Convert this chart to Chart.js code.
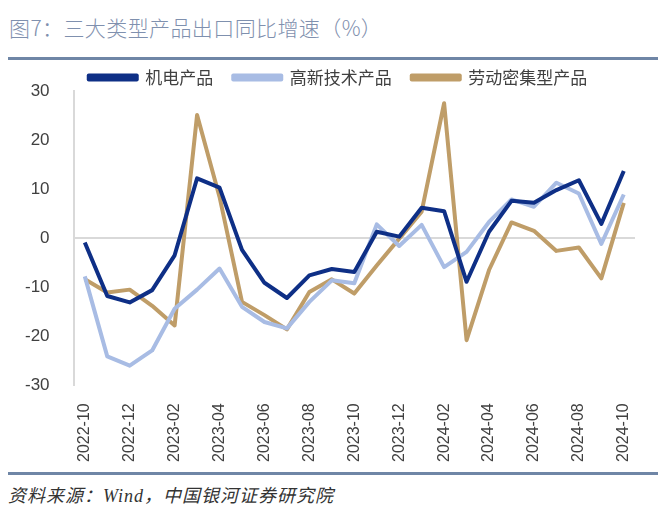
<!DOCTYPE html>
<html lang="zh">
<head>
<meta charset="UTF-8">
<title>三大类型产品出口同比增速</title>
<script src="https://cdn.jsdelivr.net/npm/chart.js@4.4.0/dist/chart.umd.min.js"></script>
<style>
  body { margin: 0; background: #fff; width: 667px; height: 517px; position: relative; overflow: hidden; }
  #title { position: absolute; left: 9px; top: 12px; font: 21px "Noto Sans CJK SC", sans-serif; letter-spacing: 0.4px; color: #7f90ae; font-weight: 300; white-space: nowrap; }
  .rule { position: absolute; left: 8px; width: 650px; height: 3px; background: #6f86a6; }
  #src { position: absolute; left: 8px; top: 481px; font: italic 18px "Noto Sans CJK SC", sans-serif; letter-spacing: 1px; color: #333; white-space: nowrap; }
  #src i { font-family: "Liberation Serif", serif; }
  #wrap { position: absolute; left: 0; top: 40px; }
</style>
</head>
<body>
<div id="title">图7：三大类型产品出口同比增速（%）</div>
<div class="rule" style="top:57px"></div>
<div id="wrap"><canvas id="c" width="667" height="432"></canvas></div>
<div class="rule" style="top:472px"></div>
<div id="src">资料来源：<i>Wind</i>，中国银河证券研究院</div>
<script>
const months = ['2022-10','2022-11','2022-12','2023-01','2023-02','2023-03','2023-04','2023-05','2023-06',
  '2023-07','2023-08','2023-09','2023-10','2023-11','2023-12','2024-01','2024-02','2024-03','2024-04',
  '2024-05','2024-06','2024-07','2024-08','2024-09','2024-10'];

const electro = [-0.9, -11.8, -13.1, -10.6, -3.5, 12.2, 10.3, -2.4, -9.1, -12.2, -7.6, -6.3, -6.9,
  1.3, 0.3, 6.2, 5.5, -8.9, 1.3, 7.6, 7.2, 9.8, 11.8, 2.9, 13.7];
const hightech = [-7.8, -24.1, -26.0, -22.9, -14.4, -10.5, -6.2, -14.0, -17.1, -18.4, -13.0, -8.6, -9.2,
  2.8, -1.6, 2.7, -5.9, -2.8, 3.3, 7.9, 6.4, 11.3, 9.1, -1.2, 8.9];
const labour = [-8.4, -11.1, -10.5, -13.8, -17.8, 25.1, 8.4, -13.0, -15.7, -18.6, -11.0, -8.4, -11.3,
  -5.6, -0.1, 5.4, 27.5, -20.8, -6.5, 3.2, 1.5, -2.6, -1.9, -8.2, 7.2];

const yTicks = [30, 20, 10, 0, -10, -20, -30];

// fixed legend height so the plot starts right under it, and nudge it right a bit
const legendFit = {
  id: 'legendFit',
  beforeInit(chart) {
    const legend = chart.legend;
    const origFit = legend.fit;
    legend.fit = function () {
      origFit.call(this);
      this.height = 42;
    };
    const origDraw = legend.draw;
    legend.draw = function () {
      const ctx = chart.ctx;
      ctx.save();
      ctx.translate(20, 0);
      origDraw.apply(this, arguments);
      ctx.restore();
    };
  }
};

new Chart(document.getElementById('c'), {
  type: 'line',
  data: {
    labels: months,
    datasets: [
      { label: '机电产品', data: electro, borderColor: '#0e2f86', backgroundColor: '#0e2f86' },
      { label: '高新技术产品', data: hightech, borderColor: '#a8bce4', backgroundColor: '#a8bce4' },
      { label: '劳动密集型产品', data: labour, borderColor: '#bf9d68', backgroundColor: '#bf9d68' }
    ]
  },
  options: {
    responsive: false,
    animation: false,
    elements: {
      line: { borderWidth: 4, tension: 0, borderJoinStyle: 'round' },
      point: { radius: 0 }
    },
    layout: { padding: { left: 1, right: 32, top: 9, bottom: 0 } },
    plugins: {
      legend: {
        position: 'top',
        labels: {
          boxWidth: 48,
          boxHeight: 4,
          padding: 20,
          color: '#404040',
          font: { family: '"Noto Sans CJK SC", sans-serif', size: 17 }
        }
      },
      tooltip: { enabled: false }
    },
    scales: {
      x: {
        offset: true,
        grid: { display: false },
        border: { display: false },
        ticks: {
          autoSkip: false,
          minRotation: 90,
          maxRotation: 90,
          padding: 10,
          color: '#404040',
          font: { family: '"Liberation Sans", sans-serif', size: 16 },
          callback: (v, i) => (i % 2 === 0 ? months[i] : '')
        }
      },
      y: {
        min: -30,
        max: 30,
        afterBuildTicks: axis => { axis.ticks = yTicks.map(v => ({ value: v })); },
        grid: {
          drawTicks: false,
          color: ctx => (ctx.tick && ctx.tick.value === 0 ? '#d9d9d9' : 'rgba(0,0,0,0)'),
          lineWidth: 2
        },
        border: { display: true, color: '#d9d9d9', width: 2 },
        ticks: {
          padding: 24,
          color: '#404040',
          font: { family: '"Liberation Sans", sans-serif', size: 17 }
        }
      }
    }
  },
  plugins: [legendFit]
});
</script>
</body>
</html>
